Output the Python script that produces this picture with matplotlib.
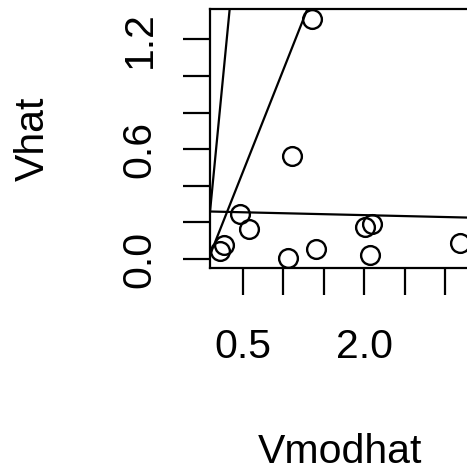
import matplotlib
matplotlib.use("Agg")
import matplotlib.pyplot as plt
import numpy as np

plt.rcParams['font.family'] = ['Liberation Sans', 'DejaVu Sans']

# fitted vs. model values
vmodhat = [1.349, 1.100, 0.468, 0.571, 0.264, 0.211, 1.058, 1.398, 2.010, 2.093, 2.072, 3.188]
vhat = [1.313, 0.564, 0.249, 0.167, 0.078, 0.042, 0.004, 0.055, 0.173, 0.191, 0.022, 0.086]

# reference lines: (intercept, slope)
line_intercepts = [-0.16, -0.08, 0.261]
line_slopes = [4.55, 1.115, -0.0104]

xticks = [0.5, 1.0, 1.5, 2.0, 2.5, 3.0]
xticklabels = ["0.5", "", "", "2.0", "", ""]
yticks = [0.0, 0.2, 0.4, 0.6, 0.8, 1.0, 1.2]
yticklabels = ["0.0", "", "", "0.6", "", "", "1.2"]

W, H = 467, 475
fig = plt.figure(figsize=(W / 100, H / 100), dpi=100)
left, right, top, bottom = 210, 470, 9, 268
ax = fig.add_axes([left / W, 1 - bottom / H, (right - left) / W, (bottom - top) / H])

ax.plot(vmodhat, vhat, 'o', mfc='none', mec='black', ms=13.5, mew=1.7, clip_on=True)
for a, b in zip(line_intercepts, line_slopes):
    ax.axline((0, a), slope=b, color='black', lw=1.6)

# R-style 4% padding around the data
x0, x1 = min(vmodhat), max(vmodhat)
y0, y1 = min(vhat), max(vhat)
dx, dy = 0.04 * (x1 - x0), 0.04 * (y1 - y0)
ax.set_xlim(x0 - dx, x1 + dx)
ax.set_ylim(y0 - dy, y1 + dy)

ax.set_xticks(xticks)
ax.set_xticklabels(xticklabels)
ax.set_yticks(yticks)
ax.set_yticklabels(yticklabels, rotation=90, va='center')
ax.tick_params(direction='out', length=19.4, width=1.6, labelsize=29.5)
ax.tick_params(axis='x', pad=23.5)
ax.tick_params(axis='y', pad=17.6)
for s in ax.spines.values():
    s.set_linewidth(1.6)

ax.set_xlabel("Vmodhat", fontsize=29.5, va='baseline')
ax.xaxis.set_label_coords(0.5, (bottom - 463) / (bottom - top))
ax.set_ylabel("Vhat", fontsize=29.5, va='center')
ax.yaxis.set_label_coords((32.5 - left) / (right - left), 0.5)

fig.savefig("out.png", dpi=100)
